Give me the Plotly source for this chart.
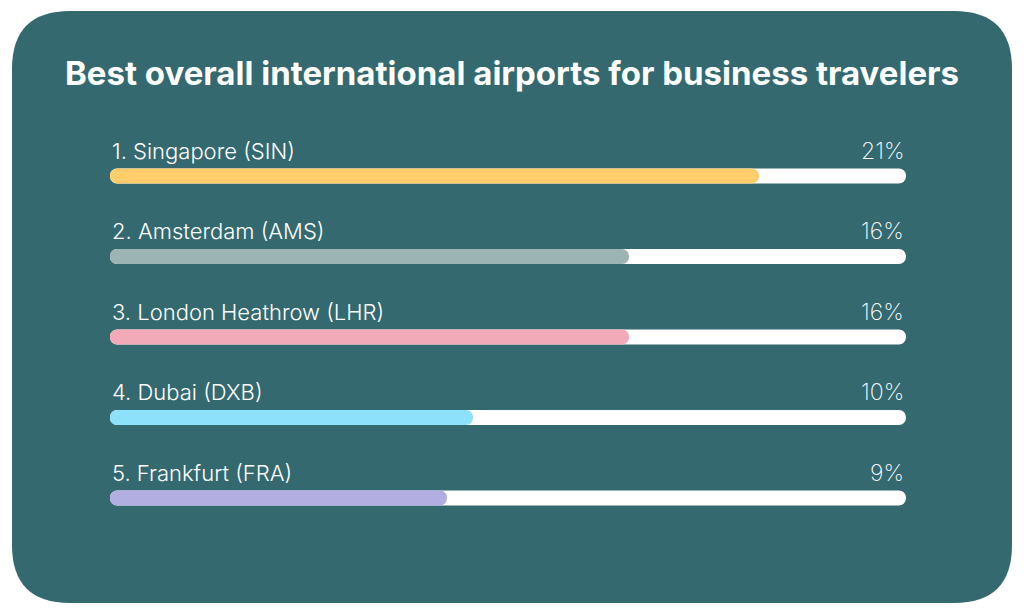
import plotly.graph_objects as go

airports = ["1. Singapore (SIN)", "2. Amsterdam (AMS)", "3. London Heathrow (LHR)",
            "4. Dubai (DXB)", "5. Frankfurt (FRA)"]
shares = [21, 16, 16, 10, 9]
pct_labels = ["21%", "16%", "16%", "10%", "9%"]
colors = ["#FFCD6A", "#9CB4B4", "#F2AAB8", "#8EE1FA", "#B2AEE1"]

BG = "#33696F"
TRACK_START = -3.96
TRACK_END = 26.65

rows = list(range(len(airports)))
n = len(rows)

fig = go.Figure()

# white tracks
fig.add_trace(go.Bar(
    y=rows, x=[TRACK_END - TRACK_START] * n,
    base=[TRACK_START] * n,
    orientation="h", width=0.186,
    marker=dict(color="white", line=dict(width=0)),
    hoverinfo="skip", showlegend=False,
))

# coloured fills
fig.add_trace(go.Bar(
    y=rows, x=[v - TRACK_START for v in shares],
    base=[TRACK_START] * n,
    orientation="h", width=0.186,
    marker=dict(color=colors, line=dict(width=0)),
    customdata=airports,
    hovertemplate="%{customdata}<extra></extra>",
    showlegend=False,
))

for i, (name, pct) in enumerate(zip(airports, pct_labels)):
    fig.add_annotation(x=TRACK_START, y=i, xref="x", yref="y", text=name,
                       xanchor="left", yanchor="middle", yshift=25, showarrow=False,
                       font=dict(family="Inter", size=22, color="white", weight=300))
    fig.add_annotation(x=TRACK_END, y=i, xref="x", yref="y", text=pct,
                       xanchor="right", yanchor="middle", yshift=25, showarrow=False,
                       font=dict(family="Inter", size=23, color="white", weight=200))

fig.add_annotation(x=0.5, y=1 - 73 / 614, xref="paper", yref="paper",
                   text="Best overall international airports for business travelers",
                   showarrow=False, xanchor="center", yanchor="middle",
                   font=dict(family="Inter", size=33, color="white", weight=700))

# rounded card behind everything (paper coords)
x0, x1, y0, y1, r = 12 / 1024, 1012 / 1024, 1 - 603 / 614, 1 - 11 / 614, 58
rx, ry = r / 1024, r / 614
card = (f"M {x0 + rx},{y0} L {x1 - rx},{y0} Q {x1},{y0} {x1},{y0 + ry} "
        f"L {x1},{y1 - ry} Q {x1},{y1} {x1 - rx},{y1} L {x0 + rx},{y1} "
        f"Q {x0},{y1} {x0},{y1 - ry} L {x0},{y0 + ry} Q {x0},{y0} {x0 + rx},{y0} Z")
fig.add_shape(type="path", path=card, xref="paper", yref="paper",
              fillcolor=BG, line=dict(width=0), layer="below")

fig.update_layout(
    width=1024, height=614,
    margin=dict(l=0, r=0, t=0, b=0),
    paper_bgcolor="white", plot_bgcolor="rgba(0,0,0,0)",
    barmode="overlay", barcornerradius=7.5,
    xaxis=dict(range=[-8.19, 31.19], visible=False, fixedrange=True),
    yaxis=dict(range=[5.441, -2.186], visible=False, fixedrange=True),
    showlegend=False,
)

fig.write_html("out.html", config={"displayModeBar": False},
               post_script="document.body.style.margin='0';")
